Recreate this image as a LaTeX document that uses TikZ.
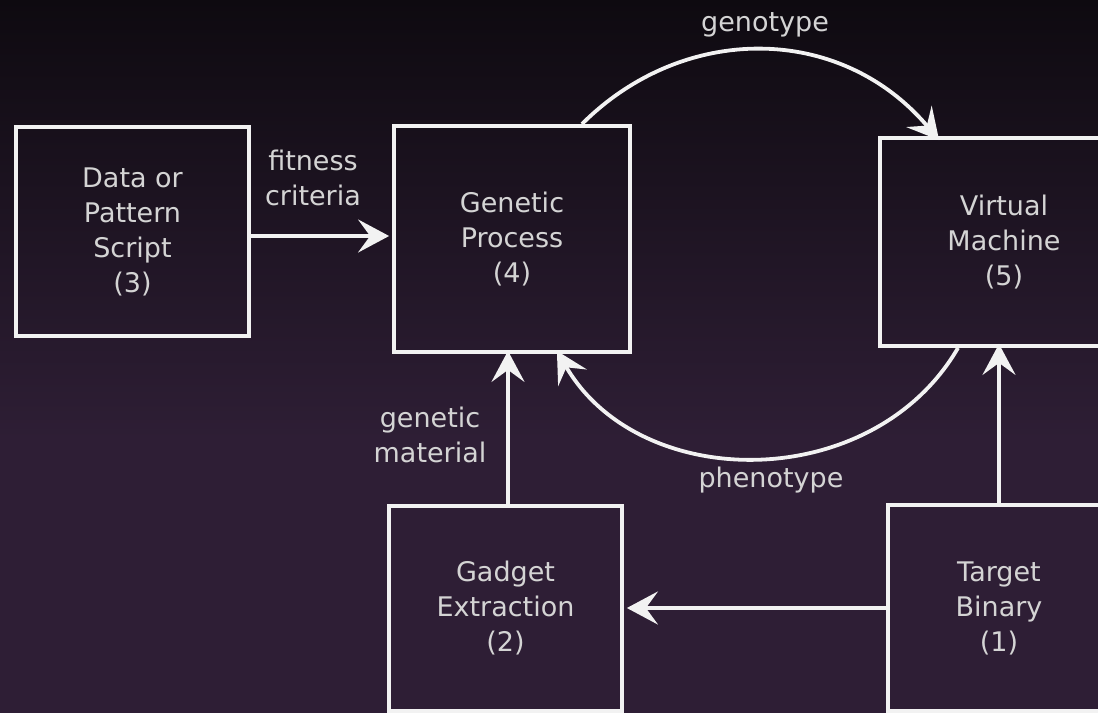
\documentclass[tikz,border=0pt]{standalone}
\usepackage{fontspec}
\setmainfont{DejaVu Sans}
\usetikzlibrary{arrows.meta}
\definecolor{bgtop}{HTML}{0E0A10}
\definecolor{bgbot}{HTML}{2E1E35}
\definecolor{txt}{HTML}{D4D4D4}
\definecolor{edge}{HTML}{F2F2F2}
\tikzset{
  stagebox/.style={draw=edge, line width=3.8pt, rectangle, align=center,
    text=txt, font=\fontsize{27}{35}\selectfont, inner sep=0pt},
  flow/.style={draw=edge, line width=3.8pt,
    -{Stealth[length=31pt, width=33pt, inset=12pt]}},
  lbl/.style={text=txt, align=center, font=\fontsize{27}{35}\selectfont, inner sep=0pt},
}
\begin{document}
\begin{tikzpicture}[x=1pt, y=-1pt]
  % backdrop: dark at the top, fading into purple
  \useasboundingbox (0,0) rectangle (1098,713);
  \shade[top color=bgtop, bottom color=bgbot] (0,0) rectangle (1098,440);
  \fill[bgbot] (0,439) rectangle (1098,713);

  \begin{scope}
    \clip (0,0) rectangle (1098,713);
    % stages
    \node[stagebox, minimum width=233pt, minimum height=209pt] (b3) at (132.5,231.5) {Data or\\Pattern\\Script\\(3)};
    \node[stagebox, minimum width=236pt, minimum height=226pt] (b4) at (512,239) {Genetic\\Process\\(4)};
    \node[stagebox, minimum width=248pt, minimum height=208pt] (b5) at (1004,242) {Virtual\\Machine\\(5)};
    \node[stagebox, minimum width=233pt, minimum height=205pt] (b2) at (505.5,608.5) {Gadget\\Extraction\\(2)};
    \node[stagebox, minimum width=222pt, minimum height=206pt] (b1) at (999,608) {Target\\Binary\\(1)};

    % connectors
    \draw[flow] (b3.east |- 0,236) -- ([xshift=-3pt]b4.west |- 0,236);
    \draw[flow] (b2.north -| 508,0) -- ([yshift=3pt]b4.south -| 508,0);
    \draw[flow] (b1.west) -- ([xshift=3pt]b2.east |- b1.west);
    \draw[flow] (b1.north) -- ([yshift=4pt]b5.south -| b1.north);
    \draw[flow] ([xshift=-50pt]b4.north east) .. controls (683,23) and (840,23) .. ([shift={(61pt,-4pt)}]b5.north west);
    \draw[flow] (b5.south -| 958,0) .. controls (873,494) and (640,494) .. ([shift={(-75pt,3pt)}]b4.south east);

    % labels
    \node[lbl] (lfit) at (313,178) {fitness\\criteria};
    \node[lbl] (lgen) at (430,434.5) {genetic\\material};
    \node[lbl] (lgeno) at (765,25) {genotype};
    \node[lbl] (lpheno) at (771,480) {phenotype};
  \end{scope}
\end{tikzpicture}
\end{document}
